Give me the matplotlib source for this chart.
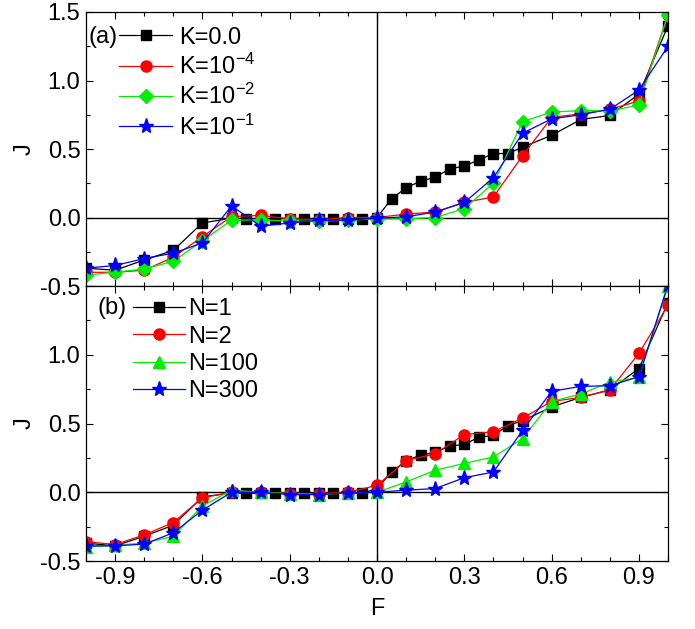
import matplotlib
matplotlib.use("Agg")
import matplotlib.pyplot as plt
from matplotlib.ticker import MultipleLocator, FixedLocator

plt.rcParams['font.family'] = ['Liberation Sans', 'DejaVu Sans']
plt.rcParams['mathtext.fontset'] = 'custom'
plt.rcParams['mathtext.rm'] = 'Liberation Sans'
plt.rcParams['mathtext.it'] = 'Liberation Sans'
plt.rcParams['axes.unicode_minus'] = False

# ---------------- data ----------------
F = [-1.0, -0.9, -0.8, -0.7, -0.6, -0.5, -0.4, -0.3, -0.2, -0.1, 0.0,
     0.1, 0.2, 0.3, 0.4, 0.5, 0.6, 0.7, 0.8, 0.9, 1.0]
F_dense = [-1.0, -0.9, -0.8, -0.7, -0.6, -0.5, -0.45, -0.4, -0.35, -0.3, -0.25,
           -0.2, -0.15, -0.1, -0.05, 0.0, 0.05, 0.1, 0.15, 0.2, 0.25, 0.3,
           0.35, 0.4, 0.45, 0.5, 0.6, 0.7, 0.8, 0.9, 1.0]

# panel (a)
J_K0 = [-0.37, -0.385, -0.31, -0.24, -0.04, -0.005, -0.008, -0.008, -0.008, -0.008,
        -0.008, -0.008, -0.008, -0.008, -0.008, 0.0, 0.136, 0.217, 0.265, 0.294,
        0.355, 0.375, 0.421, 0.467, 0.467, 0.513, 0.60, 0.715, 0.745, 0.90, 1.40]
J_K4 = [-0.40, -0.40, -0.385, -0.29, -0.14, 0.007, 0.015, -0.01, -0.015, 0.0, 0.0,
        0.025, 0.04, 0.11, 0.15, 0.45, 0.73, 0.757, 0.79, 0.85, 1.48]
J_K2 = [-0.42, -0.40, -0.375, -0.32, -0.17, -0.02, -0.017, -0.027, -0.027, -0.02, -0.01,
        -0.01, 0.0, 0.065, 0.25, 0.70, 0.77, 0.78, 0.78, 0.82, 1.48]
J_K1 = [-0.37, -0.35, -0.30, -0.26, -0.186, 0.085, -0.063, -0.04, -0.02, -0.02, -0.005,
        0.005, 0.04, 0.11, 0.29, 0.615, 0.72, 0.75, 0.79, 0.93, 1.25]

# panel (b)
J_N1 = [-0.37, -0.39, -0.32, -0.24, -0.034, -0.005, -0.008, -0.008, -0.008, -0.008,
        -0.008, -0.008, -0.008, -0.008, -0.008, 0.027, 0.147, 0.23, 0.27, 0.29,
        0.336, 0.348, 0.40, 0.413, 0.485, 0.52, 0.62, 0.69, 0.744, 0.90, 1.38]
J_N2 = [-0.36, -0.38, -0.31, -0.22, -0.04, 0.0, 0.0, -0.01, -0.01, 0.0, 0.05,
        0.23, 0.28, 0.42, 0.44, 0.54, 0.66, 0.69, 0.744, 1.01, 1.36]
J_N100 = [-0.40, -0.385, -0.37, -0.32, -0.10, 0.015, 0.0, -0.01, -0.017, -0.005, 0.0,
          0.075, 0.16, 0.21, 0.256, 0.39, 0.66, 0.715, 0.80, 0.835, 1.50]
J_N300 = [-0.39, -0.39, -0.377, -0.295, -0.13, 0.0, 0.0, -0.017, -0.017, -0.003, 0.0,
          0.015, 0.027, 0.106, 0.147, 0.45, 0.734, 0.77, 0.775, 0.84, 1.51]

labels_a = ['K=0.0', 'K=10$^{-4}$', 'K=10$^{-2}$', 'K=10$^{-1}$']
labels_b = ['N=1', 'N=2', 'N=100', 'N=300']
xticks = [-0.9, -0.6, -0.3, 0.0, 0.3, 0.6, 0.9]
xticklabels = ['-0.9', '-0.6', '-0.3', '0.0', '0.3', '0.6', '0.9']

BLACK, RED, GREEN, BLUE = 'black', '#ff0000', '#00ee00', '#0000ff'
FS = 17

fig = plt.figure(figsize=(6.95, 6.29), dpi=100)
ax1 = fig.add_axes([86/695, 1-286/629, 582/695, 274/629])
ax2 = fig.add_axes([86/695, 1-561/629, 582/695, 275/629])

lw = 0.9
ax1.plot(F_dense, J_K0, color=BLACK, marker='s', ms=7, lw=lw, label=labels_a[0])
ax1.plot(F, J_K4, color=RED, marker='o', ms=8, lw=lw, label=labels_a[1])
ax1.plot(F, J_K2, color=GREEN, marker='D', ms=7, lw=lw, label=labels_a[2])
ax1.plot(F, J_K1, color=BLUE, marker='*', ms=11, lw=lw, label=labels_a[3])

ax2.plot(F_dense, J_N1, color=BLACK, marker='s', ms=7, lw=lw, label=labels_b[0])
ax2.plot(F, J_N2, color=RED, marker='o', ms=8, lw=lw, label=labels_b[1])
ax2.plot(F, J_N100, color=GREEN, marker='^', ms=8, lw=lw, label=labels_b[2])
ax2.plot(F, J_N300, color=BLUE, marker='*', ms=11, lw=lw, label=labels_b[3])

for ax in (ax1, ax2):
    ax.axhline(0, color='black', lw=1.0, zorder=1)
    ax.axvline(0, color='black', lw=1.0, zorder=1)
    ax.set_xlim(-1.0, 1.0)
    ax.set_ylim(-0.5, 1.5)
    ax.xaxis.set_major_locator(FixedLocator(xticks))
    ax.xaxis.set_minor_locator(MultipleLocator(0.1))
    ax.yaxis.set_major_locator(MultipleLocator(0.5))
    ax.yaxis.set_minor_locator(MultipleLocator(0.25))
    ax.tick_params(which='both', direction='in', top=True, right=True,
                   labelsize=FS, pad=4)
    ax.tick_params(which='major', length=5, width=0.8)
    ax.tick_params(which='minor', length=3, width=0.8)
    for s in ax.spines.values():
        s.set_linewidth(0.9)
    ax.set_ylabel('J', fontsize=FS, labelpad=3)

ax1.set_xticklabels([])
ax2.set_xticklabels(xticklabels)
ax1.set_yticks([-0.5, 0.0, 0.5, 1.0, 1.5])
ax1.set_yticklabels(['-0.5', '0.0', '0.5', '1.0', '1.5'])
ax2.set_yticks([-0.5, 0.0, 0.5, 1.0, 1.5])
ax2.set_yticklabels(['-0.5', '0.0', '0.5', '1.0', ''])
ax2.set_xlabel('F', fontsize=FS, labelpad=7)

leg1 = ax1.legend(loc='upper left', bbox_to_anchor=(0.057, 0.947), frameon=False,
                  fontsize=FS, borderpad=0, borderaxespad=0, handlelength=2.25,
                  handletextpad=0.28, labelspacing=0.22)
ax1.text(0.004, 0.91, '(a)', transform=ax1.transAxes, fontsize=FS, va='center', ha='left')

leg2 = ax2.legend(loc='upper left', bbox_to_anchor=(0.081, 0.955), frameon=False,
                  fontsize=FS, borderpad=0, borderaxespad=0, handlelength=2.2,
                  handletextpad=0.14, labelspacing=0.22)
ax2.text(0.019, 0.92, '(b)', transform=ax2.transAxes, fontsize=FS, va='center', ha='left')

fig.savefig('out.png', dpi=100)
